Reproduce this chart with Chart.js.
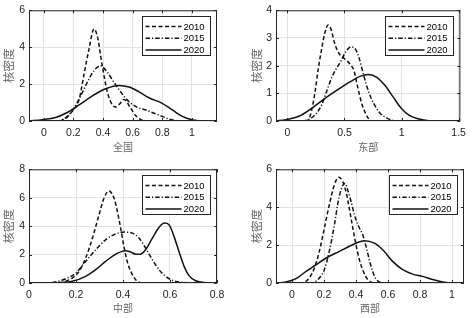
<!DOCTYPE html>
<html>
<head>
<meta charset="utf-8">
<script src="https://cdn.jsdelivr.net/npm/chart.js@4.4.0/dist/chart.umd.min.js"></script>
<style>
  html, body { margin: 0; padding: 0; background: #fff; }
  #wrap { position: relative; width: 472px; height: 318px; }
  #wrap canvas { position: absolute; }
</style>
</head>
<body>
<div id="wrap">
  <canvas id="c1" width="236" height="159" style="left:0;top:0"></canvas>
  <canvas id="c2" width="236" height="159" style="left:236px;top:0"></canvas>
  <canvas id="c3" width="236" height="159" style="left:0;top:159px"></canvas>
  <canvas id="c4" width="236" height="159" style="left:236px;top:159px"></canvas>
</div>
<script>
// ---- Data (kernel density curves) ----
var SERIES_NAMES = ["2010", "2015", "2020"];

// 全国
var qgX2010 = [0.11, 0.15, 0.19, 0.24, 0.27, 0.305, 0.339, 0.362, 0.395, 0.429, 0.463, 0.49, 0.515, 0.542, 0.587, 0.62, 0.655, 0.68];
var qgY2010 = [0, 0.16, 0.51, 1.22, 2.46, 3.88, 4.99, 4.58, 2.99, 1.58, 0.87, 0.76, 0.95, 1.17, 0.69, 0.3, 0.07, 0];
var qgX2015 = [0.08, 0.114, 0.159, 0.204, 0.249, 0.294, 0.339, 0.384, 0.429, 0.474, 0.519, 0.576, 0.632, 0.688, 0.745, 0.8, 0.846, 0.89, 0.93];
var qgY2015 = [0, 0.04, 0.25, 0.69, 1.36, 2.1, 2.73, 2.99, 2.64, 2.1, 1.58, 1.04, 0.74, 0.6, 0.42, 0.25, 0.1, 0.02, 0];
var qgX2020 = [-0.1, -0.01, 0.08, 0.148, 0.238, 0.328, 0.418, 0.508, 0.576, 0.643, 0.71, 0.8, 0.868, 0.936, 1.0, 1.07];
var qgY2020 = [0, 0.07, 0.19, 0.42, 0.87, 1.36, 1.75, 1.93, 1.84, 1.58, 1.26, 0.96, 0.6, 0.25, 0.07, 0];

// 东部
var dbX2010 = [0.156, 0.185, 0.213, 0.242, 0.27, 0.299, 0.327, 0.356, 0.384, 0.413, 0.45, 0.5, 0.55, 0.585, 0.612, 0.655, 0.698, 0.726, 0.75];
var dbY2010 = [0, 0.05, 0.4, 1.05, 1.88, 2.58, 3.17, 3.47, 3.29, 2.82, 2.45, 2.25, 2.05, 1.8, 1.29, 0.58, 0.17, 0.02, 0];
var dbX2015 = [0.128, 0.185, 0.242, 0.3, 0.342, 0.384, 0.427, 0.47, 0.513, 0.561, 0.598, 0.627, 0.669, 0.712, 0.755, 0.812, 0.869, 0.926, 0.98];
var dbY2015 = [0, 0.05, 0.22, 0.58, 1.05, 1.53, 1.88, 2.17, 2.52, 2.68, 2.58, 2.29, 1.64, 1.05, 0.64, 0.28, 0.11, 0.02, 0];
var dbX2020 = [-0.1, -0.015, 0.1, 0.213, 0.327, 0.441, 0.555, 0.641, 0.712, 0.783, 0.854, 0.926, 0.997, 1.068, 1.154, 1.24, 1.32];
var dbY2020 = [0, 0.05, 0.17, 0.46, 0.81, 1.13, 1.43, 1.62, 1.68, 1.58, 1.29, 0.87, 0.46, 0.2, 0.07, 0.01, 0];

// 中部
var zbX2010 = [0.128, 0.156, 0.184, 0.213, 0.241, 0.27, 0.298, 0.319, 0.34, 0.362, 0.376, 0.39, 0.404, 0.418, 0.433, 0.454, 0.475, 0.49];
var zbY2010 = [0, 0.12, 0.35, 0.82, 1.75, 3.16, 4.8, 5.96, 6.48, 5.96, 5.03, 3.86, 2.57, 1.52, 0.82, 0.23, 0.02, 0];
var zbX2015 = [0.057, 0.113, 0.156, 0.199, 0.241, 0.284, 0.326, 0.369, 0.404, 0.44, 0.468, 0.496, 0.525, 0.553, 0.582, 0.61, 0.652, 0.68];
var zbY2015 = [0, 0.07, 0.3, 0.7, 1.52, 2.34, 3.04, 3.46, 3.58, 3.51, 3.16, 2.46, 1.64, 0.94, 0.47, 0.19, 0.05, 0];
var zbX2020 = [0.113, 0.184, 0.241, 0.284, 0.326, 0.369, 0.411, 0.433, 0.454, 0.475, 0.496, 0.525, 0.553, 0.576, 0.596, 0.617, 0.638, 0.66, 0.68, 0.709, 0.752, 0.787];
var zbY2020 = [0, 0.12, 0.47, 0.94, 1.52, 2.03, 2.27, 2.18, 2.03, 2.03, 2.34, 3.16, 3.91, 4.22, 4.1, 3.28, 2.22, 1.17, 0.54, 0.16, 0.02, 0];

// 西部
var xbX2010 = [0.046, 0.077, 0.108, 0.14, 0.171, 0.202, 0.233, 0.265, 0.292, 0.317, 0.342, 0.369, 0.396, 0.421, 0.446, 0.473, 0.504, 0.52];
var xbY2010 = [0, 0.04, 0.26, 0.79, 1.67, 2.89, 4.12, 5.18, 5.58, 5.35, 4.65, 3.42, 2.19, 1.23, 0.61, 0.18, 0.02, 0];
var xbX2015 = [0.108, 0.14, 0.171, 0.202, 0.233, 0.265, 0.285, 0.306, 0.331, 0.348, 0.369, 0.39, 0.417, 0.442, 0.463, 0.483, 0.504, 0.525, 0.556, 0.57];
var xbY2015 = [0, 0.05, 0.26, 0.7, 1.67, 3.07, 4.12, 4.91, 5.26, 4.91, 4.3, 3.6, 2.98, 2.54, 1.93, 1.23, 0.61, 0.21, 0.02, 0];
var xbX2020 = [-0.1, -0.038, 0.025, 0.088, 0.15, 0.213, 0.296, 0.379, 0.452, 0.515, 0.567, 0.629, 0.692, 0.754, 0.817, 0.879, 0.942, 1.004, 1.075];
var xbY2020 = [0, 0.05, 0.23, 0.61, 0.96, 1.32, 1.67, 2.02, 2.23, 2.1, 1.75, 1.14, 0.7, 0.47, 0.35, 0.18, 0.05, 0, 0];

// Tick values
var qgXTicks = [0, 0.2, 0.4, 0.6, 0.8, 1];
var qgYTicks = [0, 2, 4, 6];
var dbXTicks = [0, 0.5, 1, 1.5];
var dbYTicks = [0, 1, 2, 3, 4];
var zbXTicks = [0, 0.2, 0.4, 0.6, 0.8];
var zbYTicks = [0, 2, 4, 6, 8];
var xbXTicks = [0, 0.2, 0.4, 0.6, 0.8, 1];
var xbYTicks = [0, 2, 4, 6];

// ---- Styling ----
var LINE_DASHES = [[4, 2.5], [4.5, 2, 1.2, 2], []];
var INK = "#111";
var GRID = "#e3e3e3";
var TICK_FONT = { family: '"Liberation Sans", Arial, sans-serif', size: 10.5 };
var XTITLE_FONT = { family: '"Noto Sans CJK SC", sans-serif', size: 10 };
var YTITLE_FONT = { family: '"Noto Sans CJK SC", sans-serif', size: 11.5 };

Chart.defaults.font.family = TICK_FONT.family;
Chart.defaults.color = "#222";

function toPoints(xs, ys) {
  return xs.map(function(x, i) { return { x: x, y: ys[i] }; });
}

// frame, inward ticks and boxed legend (MATLAB look)
var framePlugin = {
  id: "frame",
  afterDraw: function(chart) {
    var a = chart.chartArea, ctx = chart.ctx;
    var xs = chart.scales.x, ys = chart.scales.y;
    ctx.save();
    ctx.strokeStyle = "#262626";
    ctx.lineWidth = 1;
    ctx.setLineDash([]);
    ctx.strokeRect(a.left + 0.5, a.top + 0.5, a.right - a.left - 1, a.bottom - a.top - 1);

    ctx.beginPath();
    xs.ticks.forEach(function(t) {
      var px = Math.round(xs.getPixelForValue(t.value)) + 0.5;
      ctx.moveTo(px, a.bottom); ctx.lineTo(px, a.bottom - 3);
      ctx.moveTo(px, a.top); ctx.lineTo(px, a.top + 3);
    });
    ys.ticks.forEach(function(t) {
      var py = Math.round(ys.getPixelForValue(t.value)) + 0.5;
      ctx.moveTo(a.left, py); ctx.lineTo(a.left + 3, py);
      ctx.moveTo(a.right, py); ctx.lineTo(a.right - 3, py);
    });
    ctx.stroke();

    // legend box
    var w = 68, h = 39;
    var bx = Math.round(a.right - 7 - w) + 0.5, by = Math.round(a.top + 6) + 0.5;
    ctx.fillStyle = "#fff";
    ctx.fillRect(bx, by, w, h);
    ctx.strokeStyle = "#262626";
    ctx.strokeRect(bx, by, w, h);
    ctx.font = "9.5px " + TICK_FONT.family;
    ctx.textBaseline = "middle";
    ctx.fillStyle = "#000";
    chart.data.datasets.forEach(function(ds, i) {
      var ry = by + 10 + i * 11.7;
      ctx.beginPath();
      ctx.strokeStyle = INK;
      ctx.lineWidth = 1.5;
      ctx.setLineDash(ds.borderDash || []);
      ctx.moveTo(bx + 3, ry); ctx.lineTo(bx + 39, ry);
      ctx.stroke();
      ctx.setLineDash([]);
      ctx.fillText(ds.label, bx + 41, ry + 0.5);
    });
    ctx.restore();
  }
};

function makePanel(id, xsList, ysList, p) {
  var datasets = xsList.map(function(xs, i) {
    return {
      label: SERIES_NAMES[i],
      data: toPoints(xs, ysList[i]),
      borderColor: INK,
      borderWidth: 1.5,
      borderDash: LINE_DASHES[i],
      pointRadius: 0,
      fill: false,
      cubicInterpolationMode: "monotone",
    };
  });
  return new Chart(document.getElementById(id), {
    type: "line",
    data: { datasets: datasets },
    plugins: [framePlugin],
    options: {
      responsive: false,
      animation: false,
      events: [],
      layout: { padding: { left: 0, right: p.right, top: p.top, bottom: 0 } },
      plugins: { legend: { display: false }, tooltip: { enabled: false } },
      scales: {
        x: {
          type: "linear",
          min: p.xMin, max: p.xMax,
          afterBuildTicks: function(s) { s.ticks = p.xTicks.map(function(v) { return { value: v }; }); },
          afterFit: function(s) { s.height = p.xAxisH; },
          grid: { color: GRID, drawTicks: false },
          border: { display: false },
          ticks: { font: TICK_FONT, color: "#222", padding: 6, maxRotation: 0,
                   callback: function(v) { return String(v); } },
          title: { display: true, text: p.title, font: XTITLE_FONT, color: "#666",
                   padding: { top: 0, bottom: p.xTitlePad } },
        },
        y: {
          min: 0, max: p.yMax,
          afterBuildTicks: function(s) { s.ticks = p.yTicks.map(function(v) { return { value: v }; }); },
          afterFit: function(s) { s.width = p.left; },
          grid: { color: GRID, drawTicks: false },
          border: { display: false },
          ticks: { font: TICK_FONT, color: "#222", padding: 4,
                   callback: function(v) { return String(v); } },
          title: { display: true, text: "核密度", font: YTITLE_FONT, color: "#666",
                   padding: { top: p.yTitlePad, bottom: 0 } },
        },
      },
    },
  });
}

makePanel("c1", [qgX2010, qgX2015, qgX2020], [qgY2010, qgY2015, qgY2020], {
  title: "全国", xMin: -0.1, xMax: 1.17, xTicks: qgXTicks, yMax: 6, yTicks: qgYTicks,
  left: 29, right: 19, top: 8, xAxisH: 38, xTitlePad: 6, yTitlePad: 1.5,
});
makePanel("c2", [dbX2010, dbX2015, dbX2020], [dbY2010, dbY2015, dbY2020], {
  title: "东部", xMin: -0.1, xMax: 1.515, xTicks: dbXTicks, yMax: 4, yTicks: dbYTicks,
  left: 40, right: 7, top: 8, xAxisH: 38, xTitlePad: 6, yTitlePad: 13.5,
});
makePanel("c3", [zbX2010, zbX2015, zbX2020], [zbY2010, zbY2015, zbY2020], {
  title: "中部", xMin: 0, xMax: 0.8, xTicks: zbXTicks, yMax: 8, yTicks: zbYTicks,
  left: 29, right: 19, top: 10, xAxisH: 35, xTitlePad: 4, yTitlePad: 1.5,
});
makePanel("c4", [xbX2010, xbX2015, xbX2020], [xbY2010, xbY2015, xbY2020], {
  title: "西部", xMin: -0.1, xMax: 1.075, xTicks: xbXTicks, yMax: 6, yTicks: xbYTicks,
  left: 40, right: 8, top: 10, xAxisH: 35, xTitlePad: 4, yTitlePad: 13.5,
});
</script>
</body>
</html>
